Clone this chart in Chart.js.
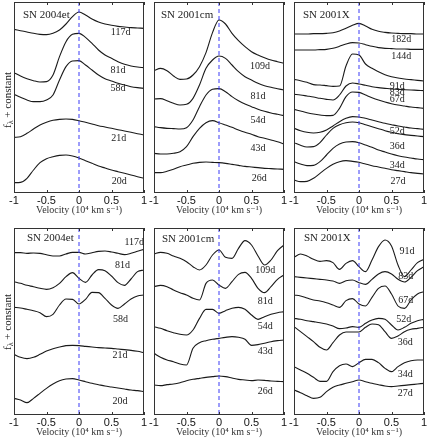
<!DOCTYPE html>
<html>
<head>
<meta charset="utf-8">
<script src="https://cdn.jsdelivr.net/npm/chart.js@4.4.0/dist/chart.umd.min.js"></script>
<style>
body { margin: 0; background: #fff; width: 429px; height: 440px; position: relative; overflow: hidden; }
canvas { position: absolute; }
</style>
</head>
<body>
<script>
// velocity grid (10^4 km/s)
const VEL = [-1, -0.9, -0.8, -0.7, -0.6, -0.5, -0.4, -0.3, -0.2, -0.1, 0, 0.1, 0.2, 0.3, 0.4, 0.5, 0.6, 0.7, 0.8, 0.9, 1];
const VEL_TICKS = [-1, -0.5, 0, 0.5, 1];

// flux + constant (axis runs downward)
// top row, SN 2004et
const tl117 = [88, 92, 96, 100, 103, 104, 100, 90, 72, 50, 36, 45, 57, 66, 72, 76, 79, 81, 83, 84, 85];
const tl81 = [218, 228, 236, 242, 246, 245, 225, 170, 125, 103, 100, 112, 130, 150, 165, 175, 185, 193, 198, 201, 203];
const tl58 = [283, 292, 300, 305, 305, 300, 285, 240, 200, 183, 182, 195, 210, 225, 236, 243, 250, 255, 260, 263, 265];
const tl21 = [412, 410, 400, 387, 375, 367, 361, 358, 357, 358, 362, 367, 372, 377, 381, 385, 389, 393, 397, 401, 405];
const tl20 = [548, 547, 535, 510, 488, 476, 470, 466, 465, 468, 474, 482, 490, 498, 504, 510, 515, 520, 525, 530, 535];
// top row, SN 2001cm
const tm109 = [212, 205, 212, 228, 238, 237, 225, 200, 158, 98, 60, 72, 100, 122, 140, 155, 165, 173, 180, 185, 190];
const tm81 = [297, 296, 302, 310, 315, 313, 295, 255, 205, 180, 168, 175, 195, 215, 230, 240, 250, 257, 262, 266, 270];
const tm54 = [380, 383, 385, 386, 387, 383, 360, 320, 285, 268, 266, 275, 290, 302, 312, 320, 328, 334, 339, 343, 347];
const tm43 = [460, 462, 462, 460, 455, 440, 410, 385, 368, 362, 368, 375, 382, 390, 397, 403, 410, 415, 420, 425, 432];
const tm26 = [518, 518, 514, 508, 500, 495, 490, 487, 486, 487, 488, 490, 493, 496, 499, 501, 503, 505, 506, 507, 508];
// top row, SN 2001X
const tr182 = [102, 102, 102, 101, 101, 100, 98, 93, 85, 76, 70, 78, 88, 94, 97, 99, 100, 101, 101, 102, 102];
const tr144 = [150, 150, 150, 150, 149, 148, 145, 139, 132, 128, 129, 134, 139, 143, 145, 146, 147, 147, 148, 148, 148];
const tr91 = [238, 242, 247, 254, 255, 257, 259, 258, 198, 162, 165, 192, 205, 215, 224, 230, 234, 237, 239, 241, 243];
const tr83 = [283, 285, 288, 291, 295, 298, 300, 285, 258, 249, 252, 256, 260, 263, 265, 267, 268, 269, 270, 271, 272];
const tr67 = [328, 333, 338, 342, 345, 347, 346, 325, 290, 276, 277, 285, 293, 300, 306, 311, 315, 318, 321, 323, 325];
const tr52 = [385, 392, 397, 399, 397, 390, 378, 365, 355, 350, 351, 355, 360, 365, 370, 374, 378, 381, 384, 386, 388];
const tr36 = [428, 436, 441, 440, 428, 405, 385, 374, 368, 366, 368, 374, 380, 386, 392, 397, 401, 404, 406, 408, 410];
const tr34 = [485, 492, 497, 496, 485, 465, 445, 432, 426, 425, 428, 435, 442, 450, 456, 462, 467, 471, 474, 477, 479];
const tr27 = [540, 545, 544, 535, 520, 505, 493, 485, 482, 484, 487, 492, 497, 501, 505, 509, 512, 515, 518, 520, 522];
// bottom row, SN 2004et
const bl117 = [98, 98, 100, 99, 100, 104, 108, 108, 102, 97, 97, 102, 98, 94, 93, 96, 100, 104, 100, 94, 88];
const bl81 = [185, 190, 196, 200, 205, 208, 203, 190, 170, 158, 175, 187, 165, 149, 152, 168, 188, 196, 177, 155, 150];
const bl58 = [262, 264, 268, 272, 278, 290, 283, 255, 237, 238, 252, 238, 217, 218, 235, 255, 265, 252, 237, 228, 225];
const bl21 = [403, 412, 416, 412, 403, 393, 386, 381, 377, 376, 377, 379, 381, 383, 384, 385, 387, 389, 391, 394, 398];
const bl20 = [535, 540, 548, 535, 520, 505, 492, 482, 477, 476, 480, 485, 490, 494, 498, 501, 504, 507, 510, 512, 515];
// bottom row, SN 2001cm
const bm109 = [102, 97, 100, 108, 115, 125, 140, 150, 135, 105, 90, 112, 115, 85, 62, 75, 108, 135, 120, 92, 75];
const bm81 = [200, 196, 200, 210, 218, 225, 235, 240, 190, 180, 195, 205, 185, 163, 157, 175, 205, 218, 200, 178, 165];
const bm54 = [320, 325, 332, 338, 343, 345, 330, 295, 268, 268, 280, 272, 265, 262, 268, 285, 298, 290, 283, 278, 275];
const bm43 = [400, 412, 420, 425, 432, 435, 385, 368, 362, 358, 355, 352, 350, 352, 358, 376, 374, 370, 365, 362, 360];
const bm26 = [495, 497, 494, 492, 488, 482, 478, 475, 472, 470, 468, 470, 474, 478, 480, 482, 480, 481, 483, 484, 485];
// bottom row, SN 2001X
const br91 = [112, 102, 108, 118, 124, 122, 128, 148, 130, 122, 140, 155, 120, 80, 60, 78, 135, 170, 150, 128, 118];
const br83 = [170, 172, 174, 176, 178, 180, 183, 190, 182, 180, 188, 193, 178, 162, 155, 162, 178, 186, 172, 152, 140];
const br67 = [225, 228, 234, 240, 243, 248, 255, 262, 242, 236, 252, 258, 232, 205, 198, 222, 258, 265, 240, 222, 215];
const br52 = [295, 298, 302, 305, 308, 312, 318, 326, 324, 320, 322, 310, 300, 295, 298, 315, 330, 322, 310, 302, 298];
const br36 = [320, 335, 350, 365, 382, 390, 368, 345, 336, 336, 336, 322, 312, 314, 335, 355, 348, 335, 328, 325, 322];
const br34 = [440, 450, 460, 472, 484, 484, 455, 437, 432, 440, 428, 418, 418, 428, 445, 455, 440, 428, 422, 420, 420];
const br27 = [510, 518, 527, 535, 532, 515, 502, 495, 490, 485, 480, 485, 490, 494, 498, 500, 498, 496, 494, 492, 490];

// epoch labels and where they sit (velocity, flux)
const epochs04et = ['117d', '81d', '58d', '21d', '20d'];
const epochs01cm = ['109d', '81d', '54d', '43d', '26d'];
const epochs01XTop = ['182d', '144d', '91d', '83d', '67d', '52d', '36d', '34d', '27d'];
const epochs01XBot = ['91d', '83d', '67d', '52d', '36d', '34d', '27d'];
const tlLabV = [0.64, 0.6, 0.6, 0.61, 0.62], tlLabY = [97, 210, 265, 415, 545];
const tmLabV = [0.63, 0.6, 0.6, 0.6, 0.62], tmLabY = [200, 290, 362, 446, 535];
const trLabV = [0.65, 0.65, 0.59, 0.59, 0.59, 0.59, 0.59, 0.59, 0.6], trLabY = [117, 170, 259, 276, 298, 393, 438, 495, 545];
const blLabV = [0.85, 0.67, 0.64, 0.63, 0.63], blLabY = [68, 135, 298, 405, 545];
const bmLabV = [0.71, 0.71, 0.71, 0.71, 0.71], bmLabY = [152, 245, 320, 395, 515];
const brLabV = [0.74, 0.72, 0.72, 0.69, 0.71, 0.71, 0.71], brLabY = [95, 168, 240, 297, 367, 462, 520];

const SERIF = '"Liberation Serif", "DejaVu Serif", serif';
const SANS = '"Liberation Sans", Arial, sans-serif';

const panels = [
    { left: 14, top: 2, h: 191, yMin: 6, yMax: 579, title: 'SN 2004et', tdx: 9, tdy: 13, yTitle: 98,
      series: [tl117, tl81, tl58, tl21, tl20], names: epochs04et, labV: tlLabV, labY: tlLabY },
    { left: 154, top: 2, h: 191, yMin: 6, yMax: 579, title: 'SN 2001cm', tdx: 7, tdy: 13,
      series: [tm109, tm81, tm54, tm43, tm26], names: epochs01cm, labV: tmLabV, labY: tmLabY },
    { left: 294, top: 2, h: 191, yMin: 6, yMax: 579, title: 'SN 2001X', tdx: 9, tdy: 13,
      series: [tr182, tr144, tr91, tr83, tr67, tr52, tr36, tr34, tr27], names: epochs01XTop, labV: trLabV, labY: trLabY },
    { left: 14, top: 228, h: 187, yMin: 24, yMax: 585, title: 'SN 2004et', tdx: 13, tdy: 10, yTitle: 94,
      series: [bl117, bl81, bl58, bl21, bl20], names: epochs04et, labV: blLabV, labY: blLabY },
    { left: 154, top: 228, h: 187, yMin: 24, yMax: 585, title: 'SN 2001cm', tdx: 8, tdy: 11,
      series: [bm109, bm81, bm54, bm43, bm26], names: epochs01cm, labV: bmLabV, labY: bmLabY },
    { left: 294, top: 228, h: 187, yMin: 24, yMax: 585, title: 'SN 2001X', tdx: 10, tdy: 10,
      series: [br91, br83, br67, br52, br36, br34, br27], names: epochs01XBot, labV: brLabV, labY: brLabY }
];

const PW = 130, PAD_L = 14, PAD_R = 10, PAD_T = 2, AXIS_H = 23;

function panelDecor(p) {
    return {
        id: 'panelDecor',
        afterDatasetsDraw(chart) {
            const { ctx, chartArea: a, scales: { x, y } } = chart;
            ctx.save();
            ctx.strokeStyle = '#333';
            ctx.lineWidth = 1;
            ctx.strokeRect(Math.round(a.left) + 0.5, Math.round(a.top) + 0.5,
                Math.round(a.right - a.left) - 1, Math.round(a.bottom - a.top) - 1);
            // inward ticks, top and bottom
            ctx.beginPath();
            VEL_TICKS.forEach(v => {
                const px = Math.round(x.getPixelForValue(v)) + 0.5;
                ctx.moveTo(px, a.bottom);
                ctx.lineTo(px, a.bottom - 3);
                ctx.moveTo(px, a.top);
                ctx.lineTo(px, a.top + 3);
            });
            ctx.stroke();

            ctx.fillStyle = '#222';
            ctx.font = '10px ' + SERIF;
            ctx.textAlign = 'center';
            ctx.textBaseline = 'middle';
            p.names.forEach((n, i) => {
                ctx.fillText(n, x.getPixelForValue(p.labV[i]), y.getPixelForValue(p.labY[i]));
            });

            ctx.font = '11px ' + SERIF;
            ctx.textAlign = 'left';
            ctx.fillText(p.title, a.left + p.tdx, a.top + p.tdy);

            if (p.yTitle) {
                ctx.translate(8, a.top + p.yTitle);
                ctx.rotate(-Math.PI / 2);
                const big = '11px ' + SERIF, small = '8px ' + SERIF;
                ctx.font = big;
                const wf = ctx.measureText('f').width;
                const wr = ctx.measureText(' + constant').width;
                ctx.font = small;
                const wl = ctx.measureText('\u03bb').width;
                let cx = -(wf + wl + wr) / 2;
                ctx.font = big;
                ctx.fillText('f', cx, 0);
                cx += wf;
                ctx.font = small;
                ctx.fillText('\u03bb', cx, 3);
                cx += wl;
                ctx.font = big;
                ctx.fillText(' + constant', cx, 0);
            }
            ctx.restore();
        }
    };
}

panels.forEach(p => {
    const canvas = document.createElement('canvas');
    canvas.width = PAD_L + PW + PAD_R;
    canvas.height = PAD_T + p.h + AXIS_H;
    canvas.style.left = (p.left - PAD_L) + 'px';
    canvas.style.top = (p.top - PAD_T) + 'px';
    document.body.appendChild(canvas);

    const datasets = [{
        data: [{ x: 0, y: p.yMin }, { x: 0, y: p.yMax }],
        borderColor: '#3b3bf5',
        borderWidth: 1,
        borderDash: [4, 3],
        pointRadius: 0
    }];
    p.series.forEach(s => {
        datasets.push({
            data: VEL.map((v, i) => ({ x: v, y: s[i] })),
            borderColor: '#1a1a1a',
            borderWidth: 1.1,
            pointRadius: 0,
            cubicInterpolationMode: 'monotone'
        });
    });

    new Chart(canvas.getContext('2d'), {
        type: 'line',
        data: { datasets },
        options: {
            responsive: false,
            animation: false,
            layout: { padding: { left: PAD_L, right: PAD_R, top: PAD_T, bottom: 0 } },
            plugins: { legend: { display: false }, tooltip: { enabled: false } },
            scales: {
                x: {
                    type: 'linear',
                    min: -1,
                    max: 1,
                    grid: { display: false, drawTicks: false },
                    border: { display: false },
                    afterBuildTicks: s => { s.ticks = VEL_TICKS.map(v => ({ value: v })); },
                    ticks: {
                        padding: 1,
                        color: '#111',
                        maxRotation: 0,
                        autoSkip: false,
                        font: { family: SANS, size: 11 },
                        callback: v => String(v)
                    },
                    title: {
                        display: true,
                        text: 'Velocity (10\u2074 km s\u207b\u00b9)',
                        color: '#333',
                        padding: 0,
                        font: { family: SERIF, size: 10, lineHeight: 1.2 }
                    },
                    afterFit: s => { s.height = AXIS_H; }
                },
                y: { display: false, min: p.yMin, max: p.yMax, reverse: true }
            }
        },
        plugins: [panelDecor(p)]
    });
});
</script>
</body>
</html>
